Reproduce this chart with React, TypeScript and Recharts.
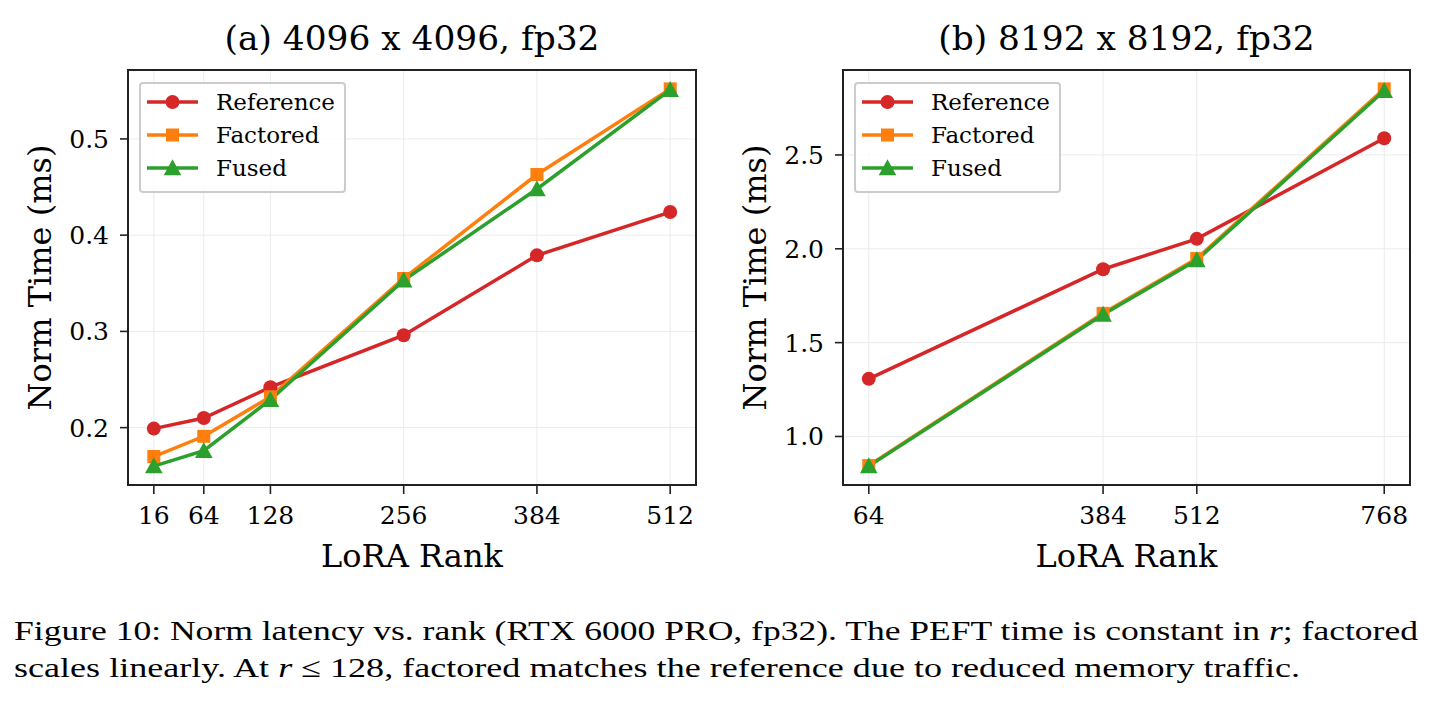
import {
  CartesianGrid,
  Legend,
  Line,
  LineChart,
  ReferenceArea,
  XAxis,
  YAxis,
} from "recharts";

// (a) 4096 x 4096
const RANKS_A = [16, 64, 128, 256, 384, 512];
const REFERENCE_A = [0.199, 0.21, 0.242, 0.296, 0.379, 0.424];
const FACTORED_A = [0.17, 0.191, 0.232, 0.355, 0.463, 0.552];
const FUSED_A = [0.16, 0.176, 0.229, 0.353, 0.448, 0.551];
const Y_TICKS_A = [0.2, 0.3, 0.4, 0.5];

// (b) 8192 x 8192
const RANKS_B = [64, 384, 512, 768];
const REFERENCE_B = [1.307, 1.891, 2.053, 2.589];
const FACTORED_B = [0.845, 1.656, 1.948, 2.852];
const FUSED_B = [0.842, 1.65, 1.94, 2.842];
const Y_TICKS_B = [1.0, 1.5, 2.0, 2.5];

const SERIES = [
  { key: "reference", name: "Reference", color: "#d62728", marker: "circle" },
  { key: "factored", name: "Factored", color: "#ff7f0e", marker: "square" },
  { key: "fused", name: "Fused", color: "#2ca02c", marker: "triangle" },
];

const FRAME = "#222222";
const CAPTION_FONT = "'Liberation Serif', 'Times New Roman', serif";

type Row = { rank: number; reference: number; factored: number; fused: number };

function buildRows(ranks: number[], reference: number[], factored: number[], fused: number[]): Row[] {
  return ranks.map((rank, i) => ({
    rank,
    reference: reference[i],
    factored: factored[i],
    fused: fused[i],
  }));
}

// matplotlib-style 5% autoscale margin
function paddedDomain(values: number[]): [number, number] {
  const lo = Math.min(...values);
  const hi = Math.max(...values);
  const pad = (hi - lo) * 0.05;
  return [lo - pad, hi + pad];
}

function Marker({ cx, cy, shape, color }: { cx: number; cy: number; shape: string; color: string }) {
  if (cx == null || cy == null) return null;
  if (shape === "circle") {
    return <circle cx={cx} cy={cy} r={7} fill={color} />;
  }
  if (shape === "square") {
    return <rect x={cx - 6.5} y={cy - 6.5} width={13} height={13} fill={color} />;
  }
  return (
    <polygon
      points={`${cx},${cy - 8.8} ${cx - 8.8},${cy + 7.2} ${cx + 8.8},${cy + 7.2}`}
      fill={color}
    />
  );
}

function LegendBox() {
  const rowsY = [20, 53, 86];
  return (
    <svg width={207} height={111} style={{ display: "block" }}>
      <rect
        x={1}
        y={1}
        width={205}
        height={109}
        rx={3}
        fill="#ffffff"
        fillOpacity={0.8}
        stroke="#cccccc"
        strokeWidth={2}
      />
      {SERIES.map((s, i) => (
        <g key={s.key}>
          <line x1={8} x2={59} y1={rowsY[i]} y2={rowsY[i]} stroke={s.color} strokeWidth={3.5} />
          <Marker cx={33.5} cy={rowsY[i]} shape={s.marker} color={s.color} />
          <text
            x={77}
            y={rowsY[i]}
            dy="0.36em"
            fontSize={23}
            fill="#000"
            fontFamily="DejaVu Serif"
          >
            {s.name}
          </text>
        </g>
      ))}
    </svg>
  );
}

type PanelProps = {
  rows: Row[];
  yTicks: number[];
  rightMargin: number;
};

function RankPanel({ rows, yTicks, rightMargin }: PanelProps) {
  const xTicks = rows.map((r) => r.rank);
  const xDomain = paddedDomain(xTicks);
  const yDomain = paddedDomain(rows.flatMap((r) => [r.reference, r.factored, r.fused]));

  return (
    <LineChart
      width={720}
      height={600}
      data={rows}
      margin={{ top: 70, right: rightMargin, bottom: 25, left: 28 }}
    >
      <CartesianGrid stroke="#ebebeb" strokeWidth={1} />
      <XAxis
        dataKey="rank"
        type="number"
        domain={xDomain}
        ticks={xTicks}
        allowDataOverflow
        interval={0}
        height={90}
        axisLine={false}
        tickLine={{ stroke: FRAME, strokeWidth: 1.6 }}
        tickSize={9}
        tickMargin={12}
        tick={{ fill: "#000", fontSize: 25 }}
        label={{ value: "LoRA Rank", position: "insideBottom", offset: 8, fontSize: 32, fill: "#000" }}
      />
      <YAxis
        type="number"
        domain={yDomain}
        ticks={yTicks}
        allowDataOverflow
        interval={0}
        width={100}
        axisLine={false}
        tickLine={{ stroke: FRAME, strokeWidth: 1.6 }}
        tickSize={8}
        tickMargin={11}
        tick={{ fill: "#000", fontSize: 25 }}
        tickFormatter={(v: number) => v.toFixed(1)}
        label={{
          value: "Norm Time (ms)",
          angle: -90,
          position: "insideLeft",
          offset: 12,
          fontSize: 32,
          fill: "#000",
          style: { textAnchor: "middle" },
        }}
      />
      <ReferenceArea
        x1={xDomain[0]}
        x2={xDomain[1]}
        y1={yDomain[0]}
        y2={yDomain[1]}
        fill="none"
        stroke={FRAME}
        strokeWidth={2}
        ifOverflow="visible"
      />
      {SERIES.map((s) => (
        <Line
          key={s.key}
          dataKey={s.key}
          name={s.name}
          stroke={s.color}
          strokeWidth={3.5}
          dot={(p: any) => (
            <Marker
              key={`${s.key}-${p.index}`}
              cx={p.cx}
              cy={p.cy}
              shape={s.marker}
              color={s.color}
            />
          )}
          activeDot={false}
          isAnimationActive={false}
        />
      ))}
      <Legend
        layout="vertical"
        align="center"
        verticalAlign="middle"
        content={() => <LegendBox />}
        wrapperStyle={{ left: 139, top: 82, width: 207, height: 111 }}
      />
    </LineChart>
  );
}

export default function App() {
  const rowsA = buildRows(RANKS_A, REFERENCE_A, FACTORED_A, FUSED_A);
  const rowsB = buildRows(RANKS_B, REFERENCE_B, FACTORED_B, FUSED_B);

  return (
    <div
      style={{
        position: "absolute",
        left: 0,
        top: 0,
        width: 1435,
        height: 704,
        background: "#fff",
        fontFamily: "DejaVu Serif",
        overflow: "hidden",
      }}
    >
      <div style={{ position: "absolute", left: 0, top: 0 }}>
        <RankPanel rows={rowsA} yTicks={Y_TICKS_A} rightMargin={24} />
      </div>
      <div style={{ position: "absolute", left: 715, top: 0 }}>
        <RankPanel rows={rowsB} yTicks={Y_TICKS_B} rightMargin={25} />
      </div>
      <svg
        width={1435}
        height={704}
        style={{ position: "absolute", left: 0, top: 0, pointerEvents: "none" }}
      >
        <text x={412} y={50} textAnchor="middle" fontSize={34.4} fill="#000" fontFamily="DejaVu Serif">
          (a) 4096 x 4096, fp32
        </text>
        <text x={1126.5} y={50} textAnchor="middle" fontSize={34.4} fill="#000" fontFamily="DejaVu Serif">
          (b) 8192 x 8192, fp32
        </text>
        <text
          x={14}
          y={640}
          fontSize={28}
          fill="#000"
          style={{ fontFamily: CAPTION_FONT }}
          textLength={1404}
          lengthAdjust="spacingAndGlyphs"
        >
          Figure 10: Norm latency vs. rank (RTX 6000 PRO, fp32). The PEFT time is constant in{" "}
          <tspan fontStyle="italic">r</tspan>; factored
        </text>
        <text
          x={14}
          y={677}
          fontSize={28}
          fill="#000"
          style={{ fontFamily: CAPTION_FONT }}
          textLength={1286}
          lengthAdjust="spacingAndGlyphs"
        >
          scales linearly. At <tspan fontStyle="italic">r</tspan> ≤ 128, factored matches the reference due
          to reduced memory traffic.
        </text>
      </svg>
    </div>
  );
}
